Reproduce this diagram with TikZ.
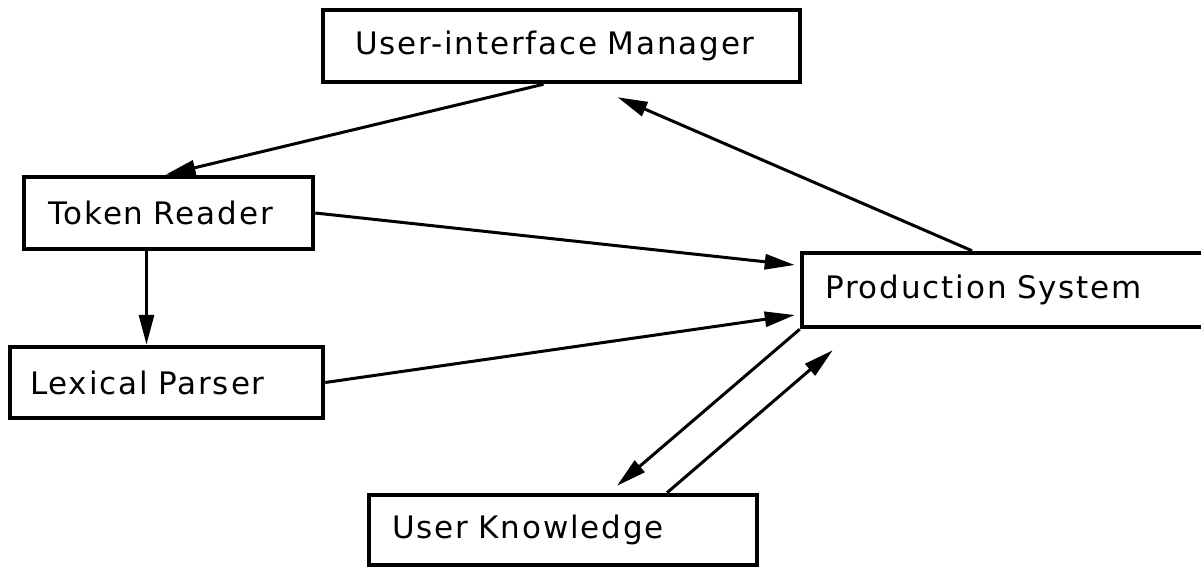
\documentclass[tikz,border=0pt]{standalone}
\usepackage{fontspec}
\setmainfont[LetterSpace=6]{DejaVu Sans}
\usetikzlibrary{arrows.meta}
\tikzset{
  module/.style={draw, rectangle, line width=4.5pt, inner ysep=0pt, minimum height=72pt, align=left, font=\fontsize{31}{36}\selectfont},
  flow/.style={-{Triangle[length=30pt,width=15pt]}, line width=3pt},
}
\begin{document}
\begin{tikzpicture}[x=1pt, y=-1pt]
  \useasboundingbox (0,0) rectangle (1201,569);
  % Draw boxes
  \node[module, inner xsep=32pt, text width=413pt] (manager) at (561.5,46) {User-interface Manager};
  \node[module, inner xsep=24pt, text width=241pt] (token) at (168.5,213) {Token Reader};
  \node[module, inner xsep=20pt, text width=273pt, minimum height=71pt] (lexical) at (166.5,382.5) {Lexical Parser};
  \node[module, inner xsep=23pt, text width=382pt, minimum height=74pt] (prod) at (1016,290) {Production System};
  \node[module, inner xsep=23pt, text width=342pt, minimum height=70pt] (know) at (563,530) {User Knowledge};

  % Draw arrows
  \draw[flow] ([xshift=-18pt]manager.south) -- ([xshift=-3pt]token.north);
  \draw[flow] ([xshift=-44pt]prod.north) -- ([shift={(56pt,-13pt)}]manager.south);
  \draw[flow] ([xshift=-22pt]token.south) -- ([xshift=-20pt]lexical.north);
  \draw[flow] (token.east) -- ([shift={(-5pt,25pt)}]prod.west);
  \draw[flow] (lexical.east) -- ([shift={(-5pt,-25pt)}]prod.west);
  \draw[flow] (prod.south west) -- ([shift={(54pt,7pt)}]know.north);
  \draw[flow] ([xshift=104pt]know.north) -- ([shift={(33pt,-21pt)}]prod.south west);
\end{tikzpicture}
\end{document}
